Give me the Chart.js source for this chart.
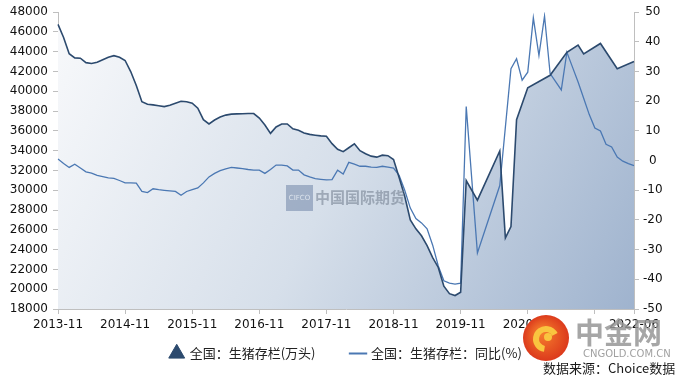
<!DOCTYPE html>
<html>
<head>
<meta charset="utf-8">
<script src="https://cdn.jsdelivr.net/npm/chart.js@4.4.1/dist/chart.umd.min.js"></script>
<style>
  html, body { margin: 0; padding: 0; background: #fff; }
  #wrap { width: 680px; height: 385px; }
</style>
</head>
<body>
<div id="wrap"><canvas id="chart" width="680" height="385"></canvas></div>
<script>
// categorías mensuales 2013-11 .. 2022-06
const months = [];
let yy = 2013, mm = 11;
while (yy < 2022 || (yy === 2022 && mm <= 6)) {
  months.push(yy + '-' + String(mm).padStart(2, '0'));
  mm++;
  if (mm > 12) { mm = 1; yy++; }
}

const tickLabels = ['2013-11', '2014-11', '2015-11', '2016-11', '2017-11', '2018-11', '2019-11', '2020-11', '2022-06'];
const tickMarks = ['2013-11', '2014-11', '2015-11', '2016-11', '2017-11', '2018-11', '2019-11', '2020-11', '2021-11', '2022-06'];

// 全国：生猪存栏(万头)
const inventory = [
  46770, 45440, 43800, 43380, 43350, 42900, 42820, 42950, 43200, 43450, 43610, 43440,
  43120, 42000, 40600, 38960, 38700, 38630, 38550, 38460, 38600, 38800, 39000, 38950,
  38800, 38300, 37140, 36710, 37100, 37400, 37600, 37700, 37720, 37740, 37760, 37760,
  37300, 36600, 35750, 36400, 36700, 36700, 36210, 36070, 35800, 35650, 35570, 35500,
  35470, 34710, 34150, 33900, 34300, 34700, 34000, 33700, 33450, 33350, 33550, 33500,
  33100, 31300, 29400, 27000, 26100, 25400, 24400, 23200, 22200, 20300, 19550, 19360,
  19690, 30990, null, 29000, null, null, null, 33980, 25180, 26340, 37140, null,
  40360, null, null, null, 41620, null, null, 43940, null, 44680, 43780, null,
  null, 44840, null, null, 42290, null, null, 43020
];

// 全国：生猪存栏：同比(%)
const yoy = [
  0.5, -1.0, -2.3, -1.2, -2.5, -3.8, -4.2, -5.0, -5.4, -5.8, -6.0, -6.7,
  -7.5, -7.5, -7.6, -10.4, -10.8, -9.5, -9.8, -10.0, -10.2, -10.4, -11.7, -10.4,
  -9.8, -9.2, -7.5, -5.5, -4.3, -3.4, -2.8, -2.3, -2.5, -2.7, -3.0, -3.2,
  -3.2, -4.3, -3.0, -1.5, -1.5, -1.8, -3.2, -3.2, -4.8, -5.5, -6.1, -6.3,
  -6.5, -6.4, -3.2, -4.5, -0.6, -1.2, -1.9, -1.9, -2.2, -2.3, -1.9, -2.2,
  -2.5, -5.0, -10, -16, -19.5, -21, -23, -28.5, -35.5, -40.5, -41.3, -41.6,
  -41.3, 18.2, null, -31.1, null, null, null, -8.4, null, 31.0, 34.3, 27.1,
  29.8, 48.1, 35.4, 48.7, 29.3, null, 23.8, 36.5, 31.5, 26.5, 21, 15.5,
  11, 10, 5.5, 4.6, 1.2, -0.2, -1.0, -1.7
];

const darkBlue = '#2c4a6e';
const lineBlue = '#4b78b3';
const axisGray = '#bfbfbf';

function areaFill(context) {
  const chart = context.chart;
  const a = chart.chartArea;
  if (!a) return 'rgba(0,0,0,0)';
  const g = chart.ctx.createLinearGradient(a.left, a.top, a.right, a.bottom);
  g.addColorStop(0, '#f8f9fb');
  g.addColorStop(0.5, '#d6dfea');
  g.addColorStop(1, '#9fb3ce');
  return g;
}

// marcas de agua y fuente
const decor = {
  id: 'decor',
  afterDraw(chart) {
    const c = chart.ctx;
    c.save();
    // 中国国际期货
    c.fillStyle = 'rgba(140,158,185,0.75)';
    c.fillRect(286, 185, 27, 26);
    c.fillStyle = 'rgba(235,240,246,0.8)';
    c.font = '7px "DejaVu Sans"';
    c.textAlign = 'center';
    c.textBaseline = 'middle';
    c.fillText('CIFCO', 299.5, 198);
    c.fillStyle = 'rgba(120,132,148,0.6)';
    c.font = 'bold 15px "Noto Sans CJK SC"';
    c.textAlign = 'left';
    c.fillText('中国国际期货', 315, 197);

    // 中金网 logo
    const cx = 546, cy = 338;
    const rg = c.createRadialGradient(cx - 5, cy - 6, 3, cx, cy, 23);
    rg.addColorStop(0, '#f47a2c');
    rg.addColorStop(1, '#dc3a1c');
    c.fillStyle = rg;
    c.beginPath();
    c.arc(cx, cy, 23, 0, Math.PI * 2);
    c.fill();
    c.strokeStyle = '#f9c53f';
    c.lineWidth = 6;
    c.beginPath();
    c.arc(cx, cy + 1, 10, Math.PI * 0.55, Math.PI * 1.85);
    c.stroke();
    c.fillStyle = '#f9c53f';
    c.beginPath();
    c.arc(cx + 2, cy - 1, 4, 0, Math.PI * 2);
    c.fill();

    c.fillStyle = 'rgba(150,150,150,0.85)';
    c.font = 'bold 29px "Noto Sans CJK SC"';
    c.textAlign = 'left';
    c.fillText('中金网', 575, 333);
    c.font = '10px "DejaVu Sans"';
    c.fillStyle = 'rgba(150,150,150,0.9)';
    c.fillText('CNGOLD.COM.CN', 583, 354);

    c.fillStyle = '#1a1a1a';
    c.font = '13px "Noto Sans CJK SC"';
    c.fillText('数据来源：Choice数据', 543, 368);
    c.restore();
  }
};

document.addEventListener('DOMContentLoaded', function () {
  const ctx = document.getElementById('chart').getContext('2d');
  new Chart(ctx, {
    type: 'line',
    data: {
      labels: months,
      datasets: [
        {
          label: '全国：生猪存栏(万头)',
          data: inventory,
          yAxisID: 'y',
          borderColor: darkBlue,
          borderWidth: 1.6,
          backgroundColor: areaFill,
          fill: 'start',
          pointRadius: 0,
          spanGaps: true,
          tension: 0
        },
        {
          label: '全国：生猪存栏：同比(%)',
          data: yoy,
          yAxisID: 'y1',
          borderColor: lineBlue,
          borderWidth: 1.3,
          fill: false,
          pointRadius: 0,
          spanGaps: true,
          tension: 0
        }
      ]
    },
    options: {
      responsive: false,
      animation: false,
      layout: { padding: { top: 6, left: 0, right: 0, bottom: 15 } },
      plugins: {
        filler: { drawTime: 'beforeDatasetsDraw' },
        tooltip: { enabled: false },
        legend: {
          position: 'bottom',
          fullSize: false,
          labels: {
            usePointStyle: true,
            boxWidth: 13,
            padding: 10,
            color: '#222',
            font: { family: '"Noto Sans CJK SC"', size: 13 },
            generateLabels(chart) {
              const items = Chart.defaults.plugins.legend.labels.generateLabels(chart);
              items[0].text = items[0].text + '\u3000\u3000';
              items[0].pointStyle = 'triangle';
              items[0].fillStyle = darkBlue;
              items[0].strokeStyle = darkBlue;
              items[0].lineWidth = 1;
              items[1].pointStyle = 'line';
              items[1].strokeStyle = lineBlue;
              items[1].lineWidth = 2;
              return items;
            }
          }
        }
      },
      scales: {
        x: {
          type: 'category',
          offset: false,
          afterBuildTicks(scale) {
            scale.ticks = tickMarks.map(l => ({ value: months.indexOf(l) }));
          },
          afterFit(scale) { scale.height = 28; },
          grid: { display: true, drawOnChartArea: false, drawTicks: true, tickLength: 5, color: axisGray },
          border: { color: axisGray },
          ticks: {
            autoSkip: false,
            maxRotation: 0,
            padding: 4,
            color: '#111',
            font: { family: '"DejaVu Sans"', size: 12 },
            callback(value) {
              const l = this.getLabelForValue(value);
              return tickLabels.includes(l) ? l : '';
            }
          }
        },
        y: {
          position: 'left',
          min: 18000,
          max: 48000,
          afterFit(scale) { scale.width = 58; },
          grid: { drawOnChartArea: false, tickLength: 5, color: axisGray },
          border: { color: axisGray },
          ticks: {
            stepSize: 2000,
            padding: 5,
            color: '#111',
            font: { family: '"DejaVu Sans"', size: 12 },
            callback: v => String(v)
          }
        },
        y1: {
          position: 'right',
          min: -50,
          max: 50,
          afterFit(scale) { scale.width = 46; },
          grid: { drawOnChartArea: false, tickLength: 5, color: axisGray },
          border: { color: axisGray },
          ticks: {
            stepSize: 10,
            padding: 4,
            crossAlign: 'center',
            color: '#111',
            font: { family: '"DejaVu Sans"', size: 12 },
            callback: v => String(v)
          }
        }
      }
    },
    plugins: [decor]
  });
});
</script>
</body>
</html>
